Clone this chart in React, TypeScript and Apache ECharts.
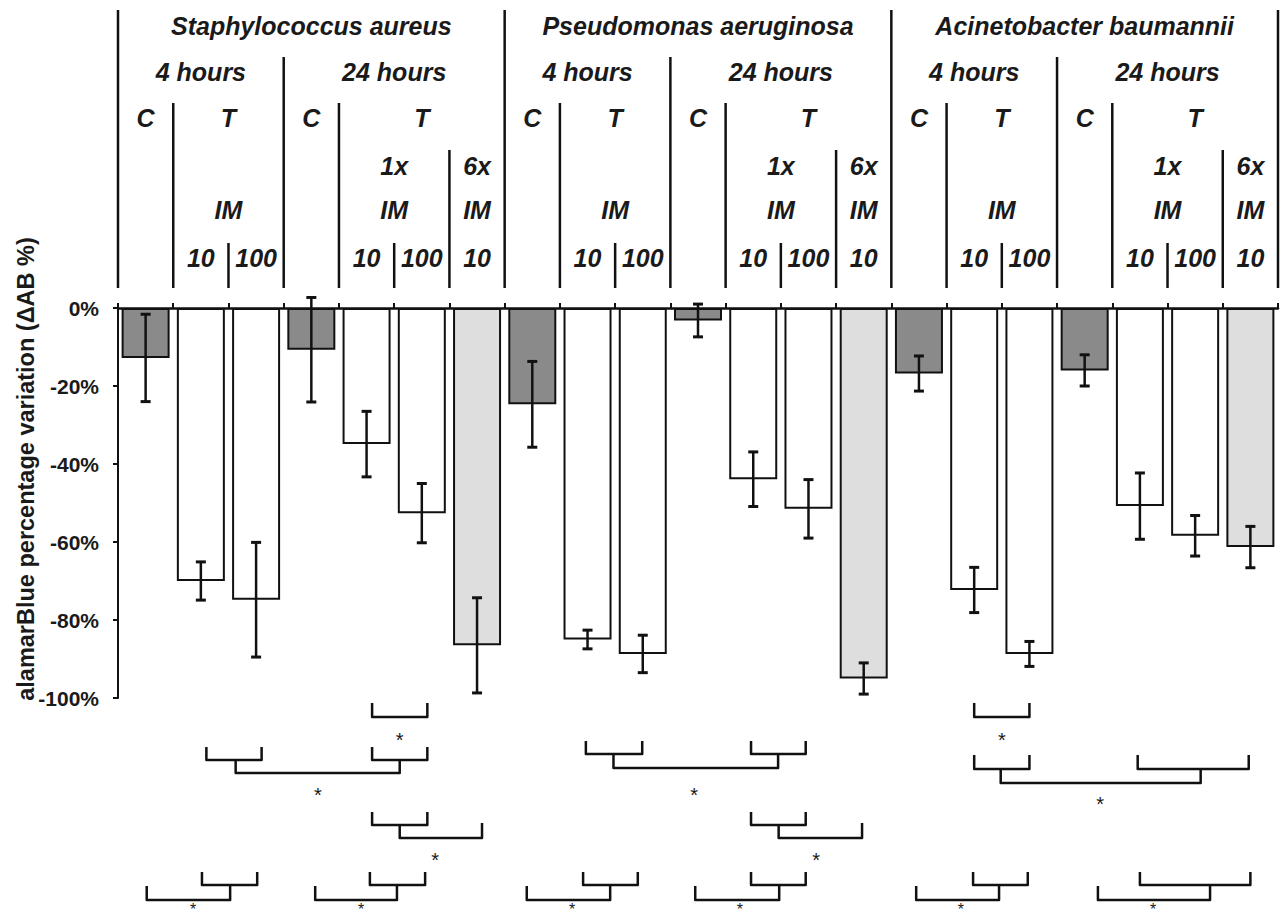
import React, { useEffect, useRef } from "react";
import * as echarts from "echarts";

// ---------------- data ----------------
const SPECIES = ["Staphylococcus aureus", "Pseudomonas aeruginosa", "Acinetobacter baumannii"];
const CONDITIONS = ["4h C", "4h T IM10", "4h T IM100", "24h C", "24h T 1xIM10", "24h T 1xIM100", "24h T 6xIM10"];
const KINDS = ["C", "T", "T", "C", "T", "T", "T6"];
const CATEGORIES = SPECIES.flatMap((s) => CONDITIONS.map((c) => `${s} ${c}`));
const MEANS = [
  -12.8, -70, -74.8, -10.7, -34.9, -52.6, -86.5,
  -24.7, -85, -88.7, -3.2, -43.9, -51.5, -95,
  -16.8, -72.3, -88.7, -16, -50.8, -58.4, -61.3,
];
const ERRORS = [
  11.2, 4.9, 14.7, 13.4, 8.4, 7.6, 12.2,
  11, 2.4, 4.8, 4.2, 7, 7.5, 4,
  4.5, 5.8, 3.2, 4, 8.5, 5.2, 5.3,
];
const Y_TICKS = [-100, -80, -60, -40, -20, 0];

// header label rows (category spans relative to each species block of 7)
const HOURS_ROW = [{ label: "4 hours", from: 0, to: 3 }, { label: "24 hours", from: 3, to: 7 }];
const GROUP_ROW = [
  { label: "C", from: 0, to: 1 }, { label: "T", from: 1, to: 3 },
  { label: "C", from: 3, to: 4 }, { label: "T", from: 4, to: 7 },
];
const DOSE_ROW = [{ label: "1x", from: 4, to: 6 }, { label: "6x", from: 6, to: 7 }];
const IM_ROW = [{ label: "IM", from: 1, to: 3 }, { label: "IM", from: 4, to: 6 }, { label: "IM", from: 6, to: 7 }];
const CONC_ROW = [
  { label: "10", from: 1, to: 2 }, { label: "100", from: 2, to: 3 },
  { label: "10", from: 4, to: 5 }, { label: "100", from: 5, to: 6 }, { label: "10", from: 6, to: 7 },
];

// significance annotations: x in category units (0 = first bar centre), y rows in px
const SIG_BRACKETS = [
  { pairs: [[4.1, 5.1]], arms: [703, 717], star: [4.6, 735] },
  { pairs: [[1.1, 2.1], [4.1, 5.1]], arms: [747, 760], join: [1.63, 4.6, 760, 760, 773], star: [3.12, 790] },
  { pairs: [[4.1, 5.1]], arms: [812, 825], join: [4.6, 6.09, 825, 823, 838], star: [5.24, 855] },
  { pairs: [[1.02, 2.02]], arms: [872, 885], join: [0.02, 1.53, 886, 885, 900], star: [0.86, 906], small: true },
  { pairs: [[4.06, 5.06]], arms: [872, 885], join: [3.07, 4.55, 886, 885, 900], star: [3.9, 906], small: true },
  { pairs: [[7.97, 8.99], [10.96, 11.95]], arms: [741, 754], join: [8.47, 11.45, 754, 754, 768], star: [9.93, 790] },
  { pairs: [[10.96, 11.95]], arms: [812, 825], join: [11.46, 12.97, 825, 823, 838], star: [12.14, 855] },
  { pairs: [[7.92, 8.91]], arms: [872, 885], join: [6.9, 8.41, 886, 885, 900], star: [7.72, 906], small: true },
  { pairs: [[10.96, 11.95]], arms: [872, 885], join: [9.95, 11.47, 886, 885, 900], star: [10.76, 906], small: true },
  { pairs: [[15, 16]], arms: [703, 717], star: [15.5, 735] },
  { pairs: [[15, 16], [17.96, 19.97]], arms: [755, 769], join: [15.48, 19.1, 769, 769, 783], star: [17.28, 799] },
  { pairs: [[14.98, 15.97]], arms: [872, 885], join: [13.95, 15.45, 886, 885, 900], star: [14.76, 906], small: true },
  { pairs: [[18, 20]], arms: [872, 885], join: [17.24, 19.27, 886, 885, 900], star: [18.24, 906], small: true },
];

// ---------------- styles / layout ----------------
const FONT = "'Liberation Sans', Arial, sans-serif";
const INK = "#111111";
const FILL: Record<string, string> = { C: "#8a8a8a", T: "#ffffff", T6: "#dedede" };
const ROW_Y = { species: 26, hours: 72, group: 117.5, dose: 166, im: 210, conc: 257.5 };
const LINE_TOP = { species: 10, hours: 57, group: 103, dose: 150, conc: 243 };
const LINE_BOTTOM = 288;
const HEADER_FONT = 25;
const STAR_FONT = 20;
const STAR_FONT_SMALL = 16;

export default function App() {
  const ref = useRef<HTMLDivElement>(null);

  useEffect(() => {
    if (!ref.current) return;
    const chart = echarts.init(ref.current, undefined, { renderer: "svg" });

    chart.setOption({
      animation: false,
      backgroundColor: "#ffffff",
      grid: { left: 118, right: 10, top: 308, bottom: 221, containLabel: false },
      xAxis: {
        type: "category",
        data: CATEGORIES,
        position: "top",
        axisLine: { show: true, onZero: false, lineStyle: { color: INK, width: 2.5 } },
        axisTick: { show: true, interval: 0, length: 5, alignWithLabel: false, lineStyle: { color: INK, width: 2 } },
        axisLabel: { show: false },
        splitLine: { show: false },
      },
      yAxis: {
        type: "value",
        min: Y_TICKS[0],
        max: Y_TICKS[Y_TICKS.length - 1],
        interval: 20,
        axisLine: { show: true, lineStyle: { color: INK, width: 2 } },
        axisTick: { show: true, length: 5, lineStyle: { color: INK, width: 2 } },
        axisLabel: {
          formatter: "{value}%",
          fontFamily: FONT,
          fontSize: 21,
          fontWeight: "bold",
          color: "#1a1a1a",
          margin: 19,
        },
        splitLine: { show: false },
      },
      series: [
        {
          type: "bar",
          barWidth: 48,
          data: MEANS.map((v, i) => ({
            value: v,
            itemStyle: { color: FILL[KINDS[i % 7]], borderColor: INK, borderWidth: 2 },
          })),
        },
        {
          type: "custom",
          data: MEANS.map((m, i) => [i, m - ERRORS[i], m + ERRORS[i]]),
          encode: { x: 0, y: [1, 2] },
          z: 5,
          renderItem: (params: any, api: any) => {
            const i = api.value(0);
            const lo = api.coord([i, api.value(1)]);
            const hi = api.coord([i, api.value(2)]);
            const cap = 5;
            const style = { stroke: INK, lineWidth: 2.5 };
            return {
              type: "group",
              children: [
                { type: "line", shape: { x1: lo[0], y1: lo[1], x2: hi[0], y2: hi[1] }, style },
                { type: "line", shape: { x1: lo[0] - cap, y1: lo[1], x2: lo[0] + cap, y2: lo[1] }, style: { stroke: INK, lineWidth: 3 } },
                { type: "line", shape: { x1: hi[0] - cap, y1: hi[1], x2: hi[0] + cap, y2: hi[1] }, style: { stroke: INK, lineWidth: 3 } },
              ],
            };
          },
        },
      ],
    });

    // positions from the category axis
    const c0 = chart.convertToPixel({ xAxisIndex: 0 }, 0) as number;
    const c1 = chart.convertToPixel({ xAxisIndex: 0 }, 1) as number;
    const band = c1 - c0;
    const xu = (u: number) => c0 + u * band; // category units -> px
    const edge = (k: number) => c0 - band / 2 + k * band; // boundary before category k

    const elements: any[] = [];
    const text = (t: string, x: number, y: number, size: number, italic = true, bold = true, extra: any = {}) =>
      elements.push({
        type: "text",
        x,
        y,
        silent: true,
        ...extra,
        style: {
          text: t,
          fontFamily: FONT,
          fontSize: size,
          fontWeight: bold ? "bold" : "normal",
          fontStyle: italic ? "italic" : "normal",
          fill: "#1a1a1a",
          align: "center",
          verticalAlign: "middle",
          textAlign: "center",
          textVerticalAlign: "middle",
        },
      });
    const vline = (x: number, top: number) =>
      elements.push({
        type: "line",
        silent: true,
        shape: { x1: x, y1: top, x2: x, y2: LINE_BOTTOM },
        style: { stroke: INK, lineWidth: 2.5 },
      });

    // species boundaries
    for (let s = 0; s <= SPECIES.length; s++) vline(edge(s * 7), LINE_TOP.species);

    SPECIES.forEach((sp, s) => {
      const base = s * 7;
      const mid = (a: number, b: number) => (edge(base + a) + edge(base + b)) / 2;
      text(sp, mid(0, 7), ROW_Y.species, HEADER_FONT);
      HOURS_ROW.forEach((r) => text(r.label, mid(r.from, r.to), ROW_Y.hours, HEADER_FONT));
      GROUP_ROW.forEach((r) => text(r.label, mid(r.from, r.to), ROW_Y.group, HEADER_FONT));
      DOSE_ROW.forEach((r) => text(r.label, mid(r.from, r.to), ROW_Y.dose, HEADER_FONT));
      IM_ROW.forEach((r) => text(r.label, mid(r.from, r.to), ROW_Y.im, HEADER_FONT));
      CONC_ROW.forEach((r) => text(r.label, mid(r.from, r.to), ROW_Y.conc, HEADER_FONT));
      vline(edge(base + 3), LINE_TOP.hours);
      vline(edge(base + 1), LINE_TOP.group);
      vline(edge(base + 4), LINE_TOP.group);
      vline(edge(base + 6), LINE_TOP.dose);
      vline(edge(base + 2), LINE_TOP.conc);
      vline(edge(base + 5), LINE_TOP.conc);
    });

    // y-axis title
    text("alamarBlue percentage variation (\u0394AB %)", 25.5, 469, 23.5, false, true, { rotation: Math.PI / 2 });

    // significance brackets
    const bstyle = { stroke: INK, lineWidth: 2.5, fill: null, lineJoin: "round" };
    SIG_BRACKETS.forEach((b: any) => {
      b.pairs.forEach(([a, c]: number[]) => {
        elements.push({
          type: "polyline",
          silent: true,
          shape: { points: [[xu(a), b.arms[0]], [xu(a), b.arms[1]], [xu(c), b.arms[1]], [xu(c), b.arms[0]]] },
          style: bstyle,
        });
      });
      if (b.join) {
        const [xa, xb, ya, yb, y] = b.join;
        elements.push({
          type: "polyline",
          silent: true,
          shape: { points: [[xu(xa), ya], [xu(xa), y], [xu(xb), y], [xu(xb), yb]] },
          style: bstyle,
        });
      }
      const fs = b.small ? STAR_FONT_SMALL : STAR_FONT;
      text("*", xu(b.star[0]), b.star[1] + fs * 0.225, fs, false, false);
    });

    chart.setOption({ graphic: { elements } });

    return () => chart.dispose();
  }, []);

  return (
    <div
      ref={ref}
      style={{ position: "absolute", left: 0, top: 0, width: 1288, height: 919, background: "#fff" }}
    />
  );
}
